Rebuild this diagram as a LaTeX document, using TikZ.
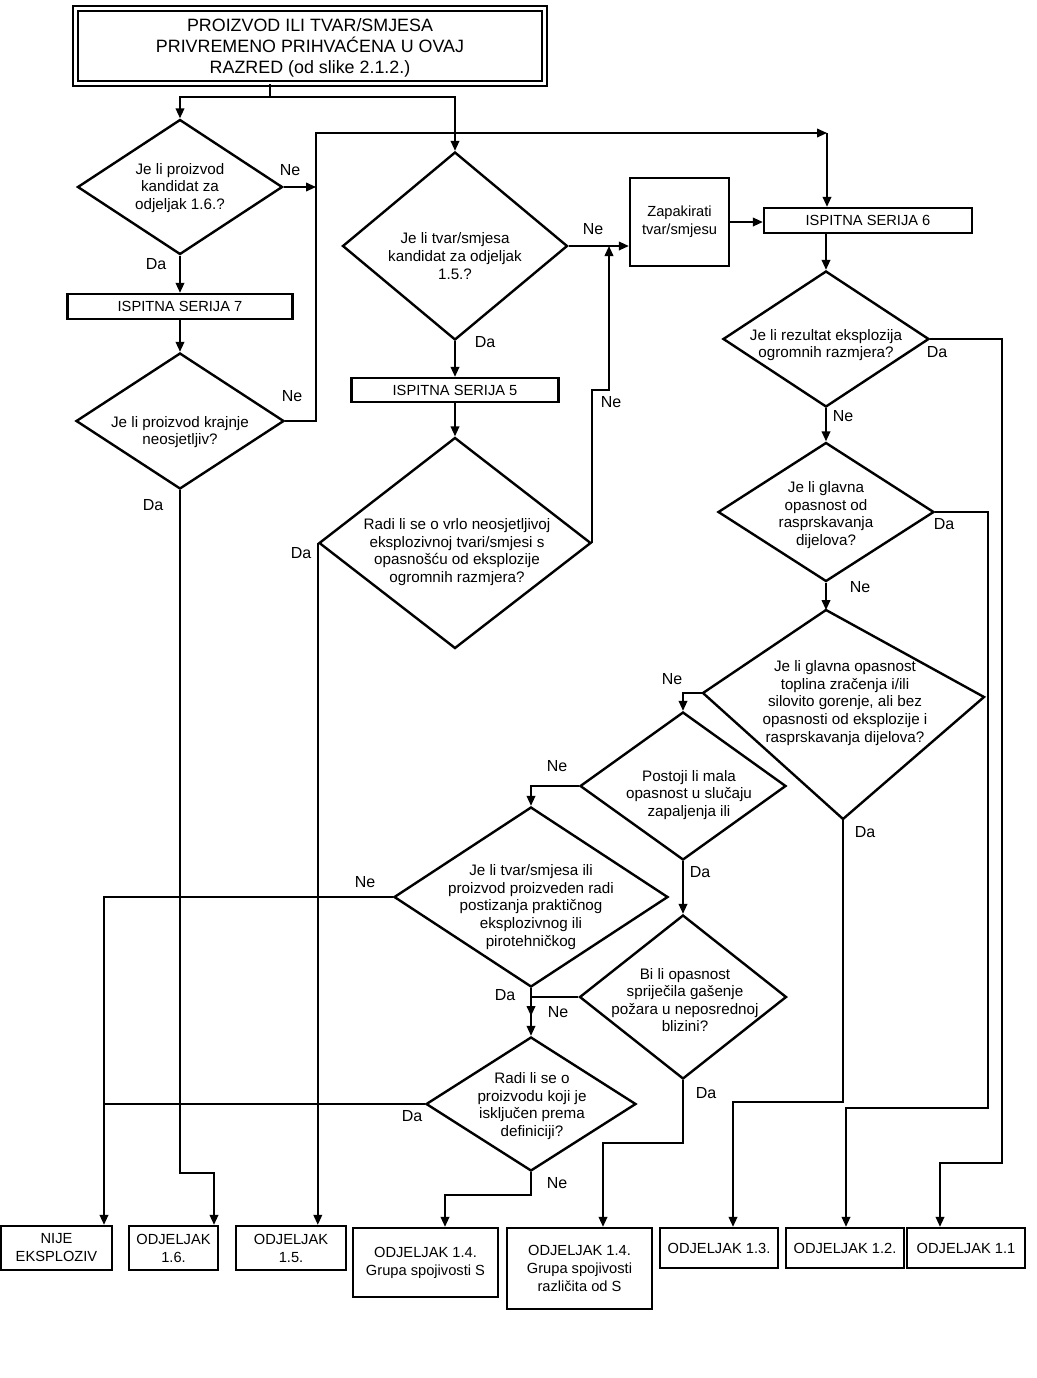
\documentclass[tikz,border=0pt]{standalone}
\usepackage{fontspec}
\setmainfont{Liberation Sans}
\usetikzlibrary{shapes.geometric,arrows.meta}
\begin{document}
\begin{tikzpicture}[x=0.75pt,y=-0.75pt,
  dia/.style 2 args={diamond,draw,line width=1.8pt,inner sep=0pt,minimum width=#1*0.75pt,minimum height=#2*0.75pt},
  dtxt/.style={align=center,inner sep=0pt,font=\fontsize{11.4}{13.2}\selectfont},
  bx/.style 2 args={rectangle,draw,line width=1.8pt,inner sep=0pt,minimum width=#1*0.75pt,minimum height=#2*0.75pt,align=center,font=\fontsize{11}{13.5}\selectfont},
  conn/.style={line width=1.3pt},
  arr/.style={conn,-{Triangle[length=7.5pt,width=6.5pt]}},
  lbl/.style={inner sep=0pt,font=\fontsize{12}{14}\selectfont},
]
\useasboundingbox (0,0) rectangle (1037,1378);

% top box
\node[draw,double,double distance=2.5pt,line width=1.2pt,minimum width=469*0.75pt,minimum height=75*0.75pt,inner sep=0pt] (top) at (310,46) {};
\node[align=center,inner sep=0pt,font=\fontsize{13.4}{15.8}\selectfont] (topx) at (310,48) {PROIZVOD ILI TVAR/SMJESA\\PRIVREMENO PRIHVAĆENA U OVAJ\\RAZRED (od slike 2.1.2.)};

% diamonds
\node[dia={205}{135}] (d1) at (180,187) {};
\node[dtxt] (d1x) at (180,188) {Je li proizvod\\kandidat za\\odjeljak 1.6.?};
\node[dia={208}{136}] (d10) at (180,421) {};
\node[dtxt] (d10x) at (180,432) {Je li proizvod krajnje\\neosjetljiv?};
\node[dia={225}{188}] (d2) at (455,246) {};
\node[dtxt] (d2x) at (455,256) {Je li tvar/smjesa\\kandidat za odjeljak\\1.5.?};
\node[dia={272}{211}] (d11) at (455,543) {};
\node[dtxt] (d11x) at (457,552) {Radi li se o vrlo neosjetljivoj\\eksplozivnoj tvari/smjesi s\\opasnošću od eksplozije\\ogromnih razmjera?};
\node[dia={206}{136}] (d3) at (826,339) {};
\node[dtxt] (d3x) at (826,345) {Je li rezultat eksplozija\\ogromnih razmjera?};
\node[dia={216}{139}] (d4) at (826,512) {};
\node[dtxt] (d4x) at (826,515) {Je li glavna\\opasnost od\\rasprskavanja\\dijelova?};
% skewed diamond 5
\coordinate (d5t) at (826,610);
\coordinate (d5r) at (984,697);
\coordinate (d5b) at (843,819);
\coordinate (d5l) at (703,693);
\draw[line width=1.8pt,line join=miter] (d5t) -- (d5r) -- (d5b) -- (d5l) -- cycle;
\node[dtxt] (d5x) at (845,703) {Je li glavna opasnost\\toplina zračenja i/ili\\silovito gorenje, ali bez\\opasnosti od eksplozije i\\rasprskavanja dijelova?};
\node[dia={206}{148}] (d6) at (683,786) {};
\node[dtxt] (d6x) at (689,795) {Postoji li mala\\opasnost u slučaju\\zapaljenja ili};
\node[dia={274}{180}] (d7) at (531,897) {};
\node[dtxt] (d7x) at (531,907) {Je li tvar/smjesa ili\\proizvod proizveden radi\\postizanja praktičnog\\eksplozivnog ili\\pirotehničkog};
\node[dia={207}{164}] (d8) at (683,997) {};
\node[dtxt] (d8x) at (685,1000) {Bi li opasnost\\spriječila gašenje\\požara u neposrednoj\\blizini?};
\node[dia={210}{134}] (d9) at (531,1104) {};
\node[dtxt] (d9x) at (532,1106) {Radi li se o\\proizvodu koji je\\isključen prema\\definiciji?};

% boxes
\node[bx={225}{25}] (isp7) at (180,306.5) {ISPITNA SERIJA 7};
\node[bx={207}{24}] (isp5) at (455,390) {ISPITNA SERIJA 5};
\node[bx={208}{25}] (isp6) at (868,220.5) {ISPITNA SERIJA 6};
\node[bx={99}{88}] (zap) at (679.5,222) {Zapakirati\\tvar/smjesu};

\node[bx={111}{44}] (b1) at (56.5,1248) {NIJE\\EKSPLOZIV};
\node[bx={89}{44}] (b2) at (173.5,1248) {ODJELJAK\\1.6.};
\node[bx={110}{44}] (b3) at (291,1248) {ODJELJAK\\1.5.};
\node[bx={145}{69}] (b4) at (425.5,1262.5) {ODJELJAK 1.4.\\Grupa spojivosti S};
\node[bx={145}{81}] (b5) at (579.5,1268.5) {ODJELJAK 1.4.\\Grupa spojivosti\\različita od S};
\node[bx={118}{40}] (b6) at (719,1248) {ODJELJAK 1.3.};
\node[bx={118}{40}] (b7) at (845,1248) {ODJELJAK 1.2.};
\node[bx={118}{40}] (b8) at (966,1248) {ODJELJAK 1.1};

% helper coordinates
\coordinate (t0) at (270,97);
\coordinate (v1) at (316,133);
\coordinate (v2) at (827,133);
\coordinate (v3) at (609,390);
\coordinate (c5) at (683,693);
\coordinate (c8) at (531,997);
\coordinate (c8b) at (531,1016);
\coordinate (c7) at (104,897);
\coordinate (c9) at (445,1195);
\coordinate (c10) at (214,1173);
\coordinate (c8d) at (603,1143);
\coordinate (c5d) at (733,1102);
\coordinate (c4) at (988,1108);
\coordinate (c4d) at (846,1108);
\coordinate (c3) at (1002,1163);
\coordinate (c3d) at (940,1163);

% connectors
\draw[conn] (top.south -| t0) -- (t0);
\draw[arr] (t0) -| (d1.north);
\draw[arr] (t0) -| (d2.north);
\draw[arr] (d1.east) -- (d1.east -| v1);
\draw[arr] (d1.south) -- (isp7.north);
\draw[arr] (isp7.south) -- (d10.north);
\draw[arr] (d10.east) -| (v1) -- (v2);
\draw[arr] (v2) -- (v2 |- isp6.north);
\draw[arr] (d2.east) -- (d2.east -| zap.west);
\draw[arr] (d2.south) -- (isp5.north);
\draw[arr] (isp5.south) -- (d11.north);
\draw[arr] (d11.west) -- (d11.west |- b3.north);
\draw[arr] (d11.east) |- (v3) -- (v3 |- d2.east);
\draw[arr] (zap.east) -- (zap.east -| isp6.west);
\draw[arr] (d3.north |- isp6.south) -- (d3.north);
\draw[arr] (d3.south) -- (d4.north);
\draw[arr] (d4.south) -- (d5t);
\draw[arr] (d5l) -- (c5) -- (d6.north);
\draw[arr] (d6.west) -| (d7.north);
\draw[arr] (d6.south) -- (d8.north);
\draw[arr] (d7.south) -- (d9.north);
\draw[arr] (d8.west) -- (c8) -- (c8b);
\draw[arr] (d7.west) -- (c7) -- (c7 |- b1.north);
\draw[conn] (d9.west) -- (d9.west -| c7);
\draw[arr] (d9.south) |- (c9) -- (c9 |- b4.north);
\draw[arr] (d10.south) |- (c10) -- (c10 |- b2.north);
\draw[arr] (d8.south) |- (c8d) -- (c8d |- b5.north);
\draw[arr] (d5b) |- (c5d) -- (c5d |- b6.north);
\draw[arr] (d4.east) -| (c4) -- (c4d) -- (c4d |- b7.north);
\draw[arr] (d3.east) -| (c3) -- (c3d) -- (c3d |- b8.north);

% labels
\node[lbl] (l1) at (290,170) {Ne};
\node[lbl] (l2) at (156,264) {Da};
\node[lbl] (l3) at (292,396) {Ne};
\node[lbl] (l4) at (153,505) {Da};
\node[lbl] (l5) at (593,229) {Ne};
\node[lbl] (l6) at (485,342) {Da};
\node[lbl] (l7) at (301,553) {Da};
\node[lbl] (l8) at (611,402) {Ne};
\node[lbl] (l9) at (937,352) {Da};
\node[lbl] (l10) at (843,416) {Ne};
\node[lbl] (l11) at (944,524) {Da};
\node[lbl] (l12) at (860,587) {Ne};
\node[lbl] (l13) at (672,679) {Ne};
\node[lbl] (l14) at (865,832) {Da};
\node[lbl] (l15) at (557,766) {Ne};
\node[lbl] (l16) at (700,872) {Da};
\node[lbl] (l17) at (365,882) {Ne};
\node[lbl] (l18) at (505,995) {Da};
\node[lbl] (l19) at (558,1012) {Ne};
\node[lbl] (l20) at (706,1093) {Da};
\node[lbl] (l21) at (412,1116) {Da};
\node[lbl] (l22) at (557,1183) {Ne};
\end{tikzpicture}
\end{document}
